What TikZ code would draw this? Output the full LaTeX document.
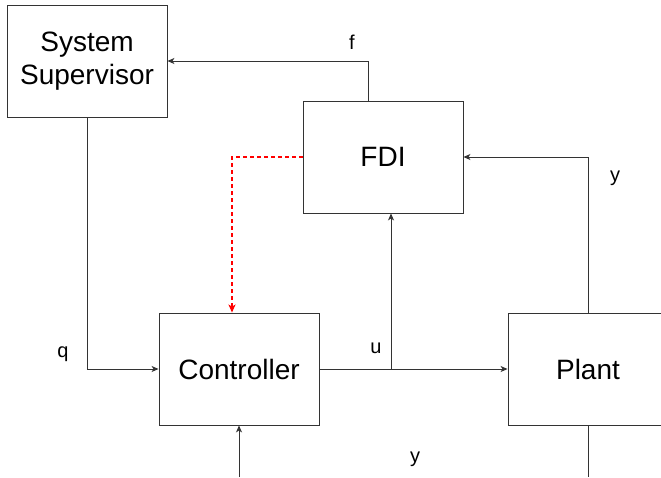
\documentclass[tikz,border=0pt]{standalone}
\usepackage{fontspec}
\setmainfont{Liberation Sans}
\usetikzlibrary{arrows.meta}
\begin{document}
\begin{tikzpicture}[x=1pt,y=-1pt,
  blk/.style={draw=black!80,line width=0.9pt,minimum width=160pt,minimum height=112pt,inner sep=0pt,font=\fontsize{28}{33}\selectfont,align=center},
  conn/.style={draw=black!80,line width=0.9pt},
  arr/.style={conn,-{Stealth[length=7pt,width=6pt,inset=2pt]}},
  redarr/.style={draw=red,line width=1.3pt,dash pattern=on 4pt off 3pt,-{Stealth[length=8pt,width=7pt,inset=2pt]}},
  lbl/.style={font=\fontsize{20}{24}\selectfont,inner sep=0pt}]
\useasboundingbox (0,0) rectangle (661,477);
\clip (0,0) rectangle (661,477);
\fill[white] (0,0) rectangle (661,477);
\node[blk] (sup) at (87,61) {System\\Supervisor};
\node[blk] (fdi) at (383,157) {FDI};
\node[blk] (ctrl) at (239,369) {Controller};
\node[blk] (plant) at (588,369) {Plant};
\coordinate (junc) at (391,369);
\coordinate (inb) at (239,477);
\coordinate (outb) at (588,477);
\draw[arr] ([xshift=-15pt]fdi.north) |- (sup.east);
\draw[arr] (sup.south) |- (ctrl.west);
\draw[redarr] (fdi.west) -| ([xshift=-7pt]ctrl.north);
\draw[arr] (ctrl.east) -- (plant.west);
\draw[arr] (junc) -- (junc |- fdi.south);
\draw[arr] (plant.north) |- (fdi.east);
\draw[arr] (inb) -- (ctrl.south);
\draw[conn] (plant.south) -- (outb);
\node[lbl] (lf) at (352,42) {f};
\node[lbl] (lq) at (63,354) {q};
\node[lbl] (lu) at (376,348) {u};
\node[lbl] (ly1) at (615,178) {y};
\node[lbl] (ly2) at (415,459) {y};
\end{tikzpicture}
\end{document}
